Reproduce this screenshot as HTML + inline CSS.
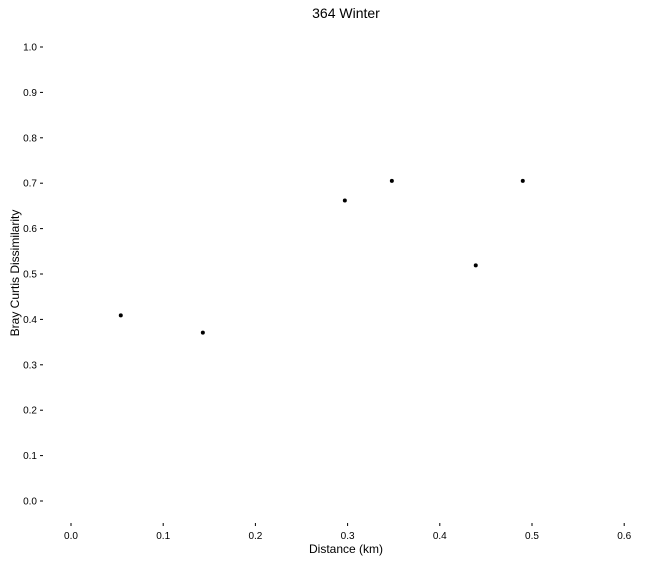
<!DOCTYPE html>
<html><head><meta charset="utf-8"><style>
body{margin:0;background:#fff;}
svg{display:block;font-family:"Liberation Sans",Arial,sans-serif;}
</style></head><body>
<svg id="chart" width="657" height="561">
<text x="346" y="18" text-anchor="middle" font-size="14" fill="#000">364 Winter</text>
<text transform="translate(19,273) rotate(-90)" text-anchor="middle" font-size="12" fill="#000">Bray Curtis Dissimilarity</text>
<text x="346" y="553" text-anchor="middle" font-size="12" fill="#000">Distance (km)</text>
<g id="axes"></g>
<g id="points"></g>
</svg>
<script>
const xTicks=[0,0.1,0.2,0.3,0.4,0.5,0.6];
const yTicks=[0,0.1,0.2,0.3,0.4,0.5,0.6,0.7,0.8,0.9,1.0];
const distances=[0.054,0.143,0.297,0.348,0.439,0.490];
const dissimilarity=[0.409,0.371,0.662,0.705,0.519,0.705];
const NS="http://www.w3.org/2000/svg";
function xs(v){return 71+v*922;}
function ys(v){return 501-v*454;}
const axes=document.getElementById('axes');
const pts=document.getElementById('points');
function mk(tag,attrs){const e=document.createElementNS(NS,tag);for(const k in attrs)e.setAttribute(k,attrs[k]);return e;}
yTicks.forEach(t=>{
  const l=mk('line',{x1:40,x2:43,y1:ys(t),y2:ys(t),stroke:'#000','stroke-width':1});
  
  
  axes.appendChild(l);
  const tx=mk('text',{x:37,y:ys(t)+3.5,'text-anchor':'end','font-size':10,fill:'#000'});
  tx.textContent=t.toFixed(1);
  
  
  axes.appendChild(tx);
});
xTicks.forEach(t=>{
  const l=mk('line',{x1:xs(t),x2:xs(t),y1:523,y2:526,stroke:'#000','stroke-width':1});
  
  
  axes.appendChild(l);
  const tx=mk('text',{x:xs(t),y:539,'text-anchor':'middle','font-size':10,fill:'#000'});
  tx.textContent=t.toFixed(1);
  
  
  axes.appendChild(tx);
});
distances.forEach((d,i)=>{
  const c=mk('circle',{cx:xs(d),cy:ys(dissimilarity[i]),r:2,fill:'#000'});
  
  
  pts.appendChild(c);
});
</script>
</body></html>
